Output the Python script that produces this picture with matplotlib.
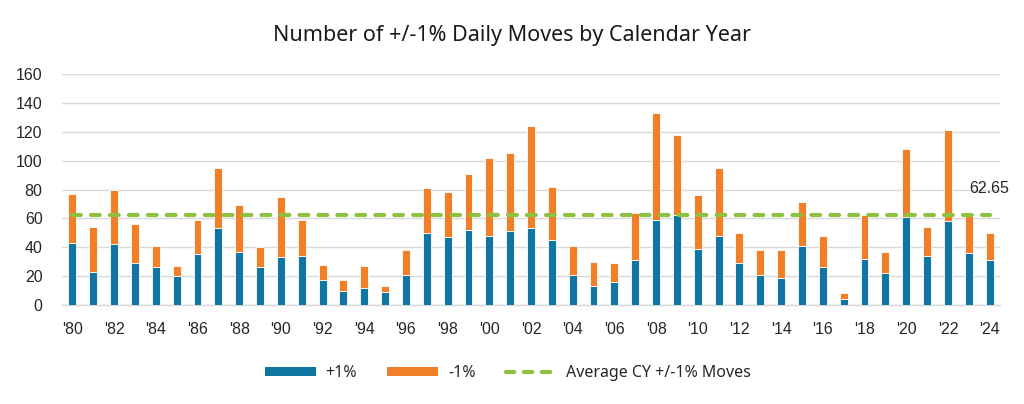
import matplotlib
matplotlib.use("Agg")
import matplotlib.pyplot as plt
import numpy as np
from matplotlib.patches import Patch
from matplotlib.lines import Line2D

years = list(range(1980, 2025))
up_moves = [43, 23, 42, 29, 26, 20, 35, 53, 37, 26, 33,
            34, 17, 10, 12, 9, 21, 50, 47, 52, 48,
            51, 53, 45, 21, 13, 16, 31, 59, 62, 39,
            48, 29, 21, 19, 41, 26, 4, 32, 22, 61,
            34, 58, 36, 31]
down_moves = [34, 31, 38, 27, 15, 7, 24, 42, 32, 14, 42,
              25, 11, 7, 15, 4, 17, 31, 31, 39, 54,
              54, 71, 37, 20, 17, 13, 33, 74, 56, 37,
              47, 21, 17, 19, 30, 22, 4, 30, 15, 47,
              20, 63, 27, 19]
average_value = 62.65
tick_labels = ["'%02d" % (y % 100) for y in years]

blue = '#0f76a2'
orange = '#f07f27'
green = '#8dc13f'
text_font = ['Noto Sans', 'DejaVu Sans']
tick_font = ['Liberation Sans', 'DejaVu Sans']

fig = plt.figure(figsize=(10.24, 4.04), dpi=100)
ax = fig.add_axes([62/1024, 1 - 305/404, (1000-62)/1024, (305-74)/404])

x = np.arange(len(years))
w = 0.38
ax.bar(x, up_moves, width=w, color=blue, edgecolor='white', linewidth=0.6, zorder=3)
ax.bar(x, down_moves, width=w, bottom=up_moves, color=orange, edgecolor='white', linewidth=0.6, zorder=3)
ax.plot([x[0], x[-1]], [average_value, average_value], color=green, linewidth=3,
        dashes=(2.1, 2.45), dash_capstyle='round', zorder=4)
ax.text(x[-1], average_value + 18, f"{average_value:.2f}", ha='center', va='center',
        fontsize=11.5, family=tick_font, color='#262626')

ax.set_xlim(-0.5, len(years) - 0.5)
ax.set_ylim(0, 160)
ax.set_yticks(np.arange(0, 161, 20))
ax.grid(axis='y', color='#d9d9d9', linewidth=1, zorder=0)
ax.set_axisbelow(True)
for s in ['top', 'right', 'left']:
    ax.spines[s].set_visible(False)
ax.spines['bottom'].set_color('#d9d9d9')
ax.spines['bottom'].set_linewidth(1)

ax.set_xticks(x[::2])
ax.set_xticklabels(tick_labels[::2])
ax.tick_params(axis='both', length=0, labelsize=11.5, labelcolor='#262626')
ax.tick_params(axis='y', pad=14)
ax.tick_params(axis='x', pad=12)
for lab in ax.get_xticklabels() + ax.get_yticklabels():
    lab.set_family(tick_font)

fig.text(0.5, 1 - 35/404, "Number of +/-1% Daily Moves by Calendar Year", ha='center', va='center',
         fontsize=15.5, family=text_font, color='#1a1a1a')

handles = [Patch(facecolor=blue), Patch(facecolor=orange),
           Line2D([0], [0], color=green, linewidth=3, dashes=(2.0, 2.3), dash_capstyle='round')]
labels = ['+1%', '-1%', 'Average CY +/-1% Moves']
leg = fig.legend(handles, labels, loc='center', bbox_to_anchor=(508/1024, 1 - 373/404), ncol=3,
                 frameon=False, handlelength=3.2, handleheight=0.5, handletextpad=0.6,
                 columnspacing=1.9, prop={'family': text_font, 'size': 11.5})
for t in leg.get_texts():
    t.set_color('#262626')

fig.savefig('out.png', dpi=100)
